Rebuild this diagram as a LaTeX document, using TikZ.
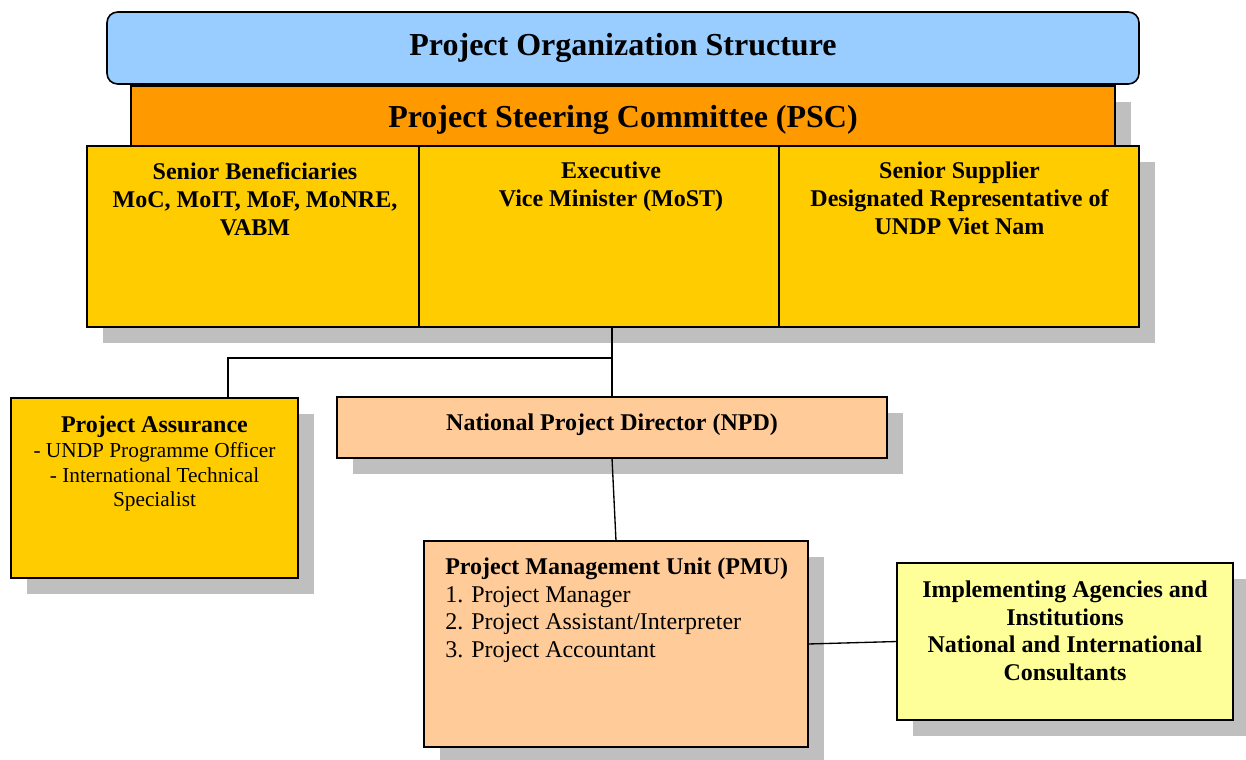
\documentclass[tikz,border=0pt]{standalone}
\usepackage{fontspec}
\setmainfont{Liberation Serif}
\usetikzlibrary{shadows}

\definecolor{titleblue}{HTML}{99CCFF}
\definecolor{pscorange}{HTML}{FF9900}
\definecolor{boardgold}{HTML}{FFCC00}
\definecolor{unitpeach}{HTML}{FFCC99}
\definecolor{agencyyellow}{HTML}{FFFF99}
\definecolor{shadowgray}{RGB}{191,191,191}

\tikzset{
  panel/.style={draw, line width=1.2pt, inner sep=0pt, outer sep=0pt},
  shadowed/.style={panel, drop shadow={shadow xshift=12pt, shadow yshift=-12pt,
    fill=shadowgray, opacity=1}},
  big/.style={font=\bfseries\fontsize{24}{28}\selectfont},
  caption/.style={font=\bfseries\fontsize{18}{21}\selectfont, align=center,
    anchor=north, inner sep=0pt},
  link/.style={line width=1pt}
}

\begin{document}
\begin{tikzpicture}[x=0.75pt, y=-0.75pt]
\useasboundingbox (0,0) rectangle (1246,760);

% heading and steering committee
\node[panel, rounded corners=8pt, fill=titleblue, minimum width=774pt,
  minimum height=54pt, big] (title) at (623,48) {Project Organization Structure};
\node[shadowed, fill=pscorange, minimum width=738pt, minimum height=45pt, big,
  text depth=0pt] (psc) at (623,116) {Project Steering Committee (PSC)};

% the three board members
\node[shadowed, fill=boardgold, minimum width=249pt, minimum height=135.75pt]
  (benef) at (253,236.5) {};
\node[shadowed, fill=boardgold, minimum width=270pt, minimum height=135.75pt]
  (exec) at (599,236.5) {};
\node[shadowed, fill=boardgold, minimum width=270pt, minimum height=135.75pt]
  (supp) at (959,236.5) {};
\node[caption] (benef text) at (255,162)
  {Senior Beneficiaries\\MoC, MoIT, MoF, MoNRE,\\VABM};
\node[caption] (exec text) at (611,162) {Executive\\Vice Minister (MoST)};
\node[caption] (supp text) at (959.5,162)
  {Senior Supplier\\Designated Representative of\\UNDP Viet Nam};

% lower level
\node[shadowed, fill=boardgold, minimum width=215.25pt, minimum height=135pt]
  (assure) at (154.5,488) {};
\node[caption, font=\fontsize{16}{18.5}\selectfont] (assure text) at (154.5,416)
  {{\bfseries\fontsize{18}{18.5}\selectfont Project Assurance}\\
   - UNDP Programme Officer\\- International Technical\\Specialist};

\node[shadowed, fill=unitpeach, minimum width=412.5pt, minimum height=45.75pt,
  font=\bfseries\fontsize{18}{21}\selectfont, text depth=8.5pt]
  (npd) at (612,427.5) {National Project Director (NPD)};

\node[shadowed, fill=unitpeach, minimum width=288pt, minimum height=154.5pt]
  (pmu) at (616,644) {};
\node[caption, anchor=north west, align=left, font=\fontsize{18}{20.8}\selectfont]
  (pmu text) at (445,557.5)
  {{\bfseries Project Management Unit (PMU)}\\1. Project Manager\\
   2. Project Assistant/Interpreter\\3. Project Accountant};

\node[shadowed, fill=agencyyellow, minimum width=252pt, minimum height=117.75pt]
  (impl) at (1065,641.5) {};
\node[caption, font=\bfseries\fontsize{18}{20.8}\selectfont] (impl text) at (1065,580.5)
  {Implementing Agencies and\\Institutions\\National and International\\Consultants};

% reporting lines
\coordinate (fork) at (612,358);
\draw[link] (exec.south -| fork) -- (npd.north -| fork);
\draw[link] (fork) -| ([xshift=55pt]assure.north);
\draw[link] (npd.south) -- (pmu.north);
\draw[link] (pmu.east) -- (impl.west);

\end{tikzpicture}
\end{document}
